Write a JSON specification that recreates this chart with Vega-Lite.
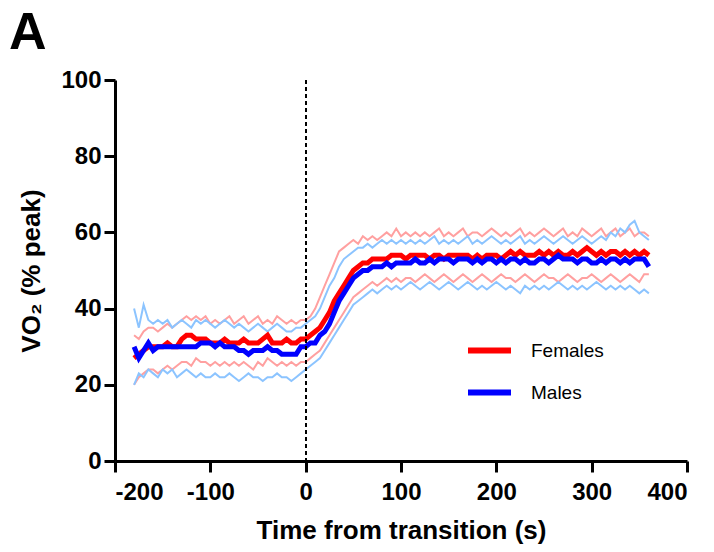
{
  "$schema": "https://vega.github.io/schema/vega-lite/v6.json",
  "width": 572,
  "height": 381,
  "autosize": {"type": "none"},
  "padding": {"left": 115, "top": 80, "right": 27, "bottom": 91},
  "background": "white",
  "title": {"text": "A", "anchor": "start", "frame": "group", "dx": -106, "offset": 8, "fontSize": 52, "fontWeight": "bold", "font": "Liberation Sans", "color": "black"},
  "data": {"values": [
{"t":-180,"Females":27,"Males":30,"Fu":33,"Fl":20,"Mu":40,"Ml":20},
{"t":-175,"Females":28,"Males":27,"Fu":32,"Fl":22,"Mu":35,"Ml":23},
{"t":-170,"Females":29,"Males":29,"Fu":34,"Fl":23,"Mu":41,"Ml":22},
{"t":-165,"Females":30,"Males":31,"Fu":35,"Fl":24,"Mu":37,"Ml":24},
{"t":-160,"Females":30,"Males":29,"Fu":35,"Fl":24,"Mu":36,"Ml":23},
{"t":-155,"Females":30,"Males":30,"Fu":34,"Fl":23,"Mu":37,"Ml":22},
{"t":-150,"Females":30,"Males":30,"Fu":35,"Fl":24,"Mu":36,"Ml":24},
{"t":-145,"Females":31,"Males":30,"Fu":36,"Fl":25,"Mu":37,"Ml":23},
{"t":-140,"Females":30,"Males":30,"Fu":35,"Fl":24,"Mu":35,"Ml":24},
{"t":-135,"Females":30,"Males":30,"Fu":36,"Fl":25,"Mu":36,"Ml":22},
{"t":-130,"Females":32,"Males":30,"Fu":37,"Fl":26,"Mu":37,"Ml":23},
{"t":-125,"Females":33,"Males":30,"Fu":38,"Fl":26,"Mu":36,"Ml":24},
{"t":-120,"Females":33,"Males":30,"Fu":37,"Fl":25,"Mu":35,"Ml":23},
{"t":-115,"Females":32,"Males":30,"Fu":38,"Fl":27,"Mu":37,"Ml":22},
{"t":-110,"Females":32,"Males":31,"Fu":37,"Fl":26,"Mu":36,"Ml":23},
{"t":-105,"Females":32,"Males":31,"Fu":38,"Fl":26,"Mu":37,"Ml":22},
{"t":-100,"Females":31,"Males":31,"Fu":36,"Fl":25,"Mu":36,"Ml":22},
{"t":-95,"Females":31,"Males":30,"Fu":37,"Fl":26,"Mu":35,"Ml":23},
{"t":-90,"Females":31,"Males":31,"Fu":36,"Fl":25,"Mu":36,"Ml":22},
{"t":-85,"Females":32,"Males":30,"Fu":37,"Fl":26,"Mu":37,"Ml":22},
{"t":-80,"Females":31,"Males":30,"Fu":38,"Fl":25,"Mu":36,"Ml":23},
{"t":-75,"Females":31,"Males":30,"Fu":36,"Fl":26,"Mu":35,"Ml":22},
{"t":-70,"Females":31,"Males":29,"Fu":37,"Fl":25,"Mu":36,"Ml":21},
{"t":-65,"Females":32,"Males":29,"Fu":38,"Fl":26,"Mu":35,"Ml":22},
{"t":-60,"Females":31,"Males":28,"Fu":36,"Fl":25,"Mu":34,"Ml":23},
{"t":-55,"Females":31,"Males":29,"Fu":37,"Fl":24,"Mu":35,"Ml":22},
{"t":-50,"Females":31,"Males":29,"Fu":38,"Fl":26,"Mu":36,"Ml":22},
{"t":-45,"Females":32,"Males":29,"Fu":36,"Fl":25,"Mu":35,"Ml":21},
{"t":-40,"Females":33,"Males":30,"Fu":37,"Fl":27,"Mu":34,"Ml":22},
{"t":-35,"Females":31,"Males":29,"Fu":36,"Fl":26,"Mu":35,"Ml":22},
{"t":-30,"Females":31,"Males":29,"Fu":38,"Fl":25,"Mu":36,"Ml":23},
{"t":-25,"Females":31,"Males":28,"Fu":37,"Fl":26,"Mu":35,"Ml":22},
{"t":-20,"Females":32,"Males":28,"Fu":36,"Fl":25,"Mu":34,"Ml":22},
{"t":-15,"Females":31,"Males":28,"Fu":37,"Fl":26,"Mu":34,"Ml":21},
{"t":-10,"Females":31,"Males":28,"Fu":36,"Fl":25,"Mu":35,"Ml":22},
{"t":-5,"Females":32,"Males":30,"Fu":37,"Fl":26,"Mu":35,"Ml":23},
{"t":0,"Females":32,"Males":30,"Fu":37,"Fl":26,"Mu":36,"Ml":24},
{"t":5,"Females":33,"Males":31,"Fu":38,"Fl":27,"Mu":37,"Ml":25},
{"t":10,"Females":34,"Males":31,"Fu":40,"Fl":28,"Mu":38,"Ml":26},
{"t":15,"Females":35,"Males":33,"Fu":43,"Fl":29,"Mu":40,"Ml":27},
{"t":20,"Females":37,"Males":34,"Fu":46,"Fl":31,"Mu":43,"Ml":29},
{"t":25,"Females":39,"Males":36,"Fu":49,"Fl":33,"Mu":46,"Ml":31},
{"t":30,"Females":42,"Males":39,"Fu":52,"Fl":35,"Mu":48,"Ml":33},
{"t":35,"Females":44,"Males":42,"Fu":55,"Fl":37,"Mu":51,"Ml":35},
{"t":40,"Females":46,"Males":44,"Fu":56,"Fl":39,"Mu":53,"Ml":37},
{"t":45,"Females":48,"Males":46,"Fu":57,"Fl":41,"Mu":54,"Ml":39},
{"t":50,"Females":50,"Males":48,"Fu":58,"Fl":43,"Mu":55,"Ml":41},
{"t":55,"Females":51,"Males":49,"Fu":57,"Fl":44,"Mu":56,"Ml":42},
{"t":60,"Females":52,"Males":50,"Fu":59,"Fl":45,"Mu":56,"Ml":43},
{"t":65,"Females":52,"Males":50,"Fu":58,"Fl":46,"Mu":57,"Ml":44},
{"t":70,"Females":53,"Males":51,"Fu":59,"Fl":47,"Mu":56,"Ml":45},
{"t":75,"Females":53,"Males":51,"Fu":58,"Fl":46,"Mu":57,"Ml":44},
{"t":80,"Females":53,"Males":51,"Fu":59,"Fl":47,"Mu":58,"Ml":45},
{"t":85,"Females":53,"Males":52,"Fu":60,"Fl":48,"Mu":57,"Ml":46},
{"t":90,"Females":54,"Males":51,"Fu":59,"Fl":47,"Mu":58,"Ml":45},
{"t":95,"Females":54,"Males":52,"Fu":61,"Fl":48,"Mu":57,"Ml":46},
{"t":100,"Females":54,"Males":52,"Fu":59,"Fl":47,"Mu":58,"Ml":45},
{"t":105,"Females":53,"Males":52,"Fu":60,"Fl":48,"Mu":57,"Ml":46},
{"t":110,"Females":54,"Males":52,"Fu":59,"Fl":48,"Mu":58,"Ml":47},
{"t":115,"Females":54,"Males":53,"Fu":60,"Fl":47,"Mu":57,"Ml":46},
{"t":120,"Females":54,"Males":52,"Fu":59,"Fl":48,"Mu":58,"Ml":45},
{"t":125,"Females":54,"Males":52,"Fu":60,"Fl":49,"Mu":57,"Ml":46},
{"t":130,"Females":53,"Males":53,"Fu":59,"Fl":48,"Mu":58,"Ml":47},
{"t":135,"Females":54,"Males":52,"Fu":60,"Fl":47,"Mu":59,"Ml":46},
{"t":140,"Females":54,"Males":53,"Fu":61,"Fl":48,"Mu":57,"Ml":45},
{"t":145,"Females":53,"Males":53,"Fu":59,"Fl":49,"Mu":58,"Ml":46},
{"t":150,"Females":54,"Males":53,"Fu":60,"Fl":48,"Mu":57,"Ml":47},
{"t":155,"Females":54,"Males":52,"Fu":59,"Fl":47,"Mu":58,"Ml":46},
{"t":160,"Females":54,"Males":53,"Fu":60,"Fl":48,"Mu":57,"Ml":45},
{"t":165,"Females":54,"Males":53,"Fu":61,"Fl":49,"Mu":58,"Ml":46},
{"t":170,"Females":54,"Males":53,"Fu":59,"Fl":48,"Mu":59,"Ml":47},
{"t":175,"Females":53,"Males":52,"Fu":60,"Fl":47,"Mu":57,"Ml":46},
{"t":180,"Females":54,"Males":53,"Fu":60,"Fl":48,"Mu":58,"Ml":45},
{"t":185,"Females":53,"Males":52,"Fu":59,"Fl":49,"Mu":57,"Ml":46},
{"t":190,"Females":54,"Males":53,"Fu":60,"Fl":48,"Mu":58,"Ml":45},
{"t":195,"Females":54,"Males":53,"Fu":61,"Fl":47,"Mu":59,"Ml":46},
{"t":200,"Females":54,"Males":52,"Fu":60,"Fl":48,"Mu":58,"Ml":47},
{"t":205,"Females":53,"Males":53,"Fu":59,"Fl":49,"Mu":57,"Ml":46},
{"t":210,"Females":54,"Males":52,"Fu":60,"Fl":48,"Mu":58,"Ml":45},
{"t":215,"Females":55,"Males":53,"Fu":59,"Fl":48,"Mu":57,"Ml":46},
{"t":220,"Females":54,"Males":53,"Fu":60,"Fl":47,"Mu":58,"Ml":45},
{"t":225,"Females":55,"Males":52,"Fu":61,"Fl":48,"Mu":59,"Ml":44},
{"t":230,"Females":54,"Males":53,"Fu":59,"Fl":49,"Mu":57,"Ml":46},
{"t":235,"Females":54,"Males":52,"Fu":60,"Fl":48,"Mu":58,"Ml":45},
{"t":240,"Females":54,"Males":52,"Fu":59,"Fl":47,"Mu":57,"Ml":46},
{"t":245,"Females":55,"Males":53,"Fu":60,"Fl":48,"Mu":58,"Ml":45},
{"t":250,"Females":54,"Males":53,"Fu":61,"Fl":49,"Mu":59,"Ml":46},
{"t":255,"Females":55,"Males":52,"Fu":60,"Fl":48,"Mu":58,"Ml":45},
{"t":260,"Females":54,"Males":53,"Fu":59,"Fl":48,"Mu":57,"Ml":46},
{"t":265,"Females":55,"Males":54,"Fu":60,"Fl":47,"Mu":58,"Ml":47},
{"t":270,"Females":54,"Males":53,"Fu":61,"Fl":48,"Mu":59,"Ml":46},
{"t":275,"Females":54,"Males":53,"Fu":59,"Fl":49,"Mu":58,"Ml":45},
{"t":280,"Females":55,"Males":53,"Fu":60,"Fl":48,"Mu":57,"Ml":46},
{"t":285,"Females":54,"Males":52,"Fu":59,"Fl":47,"Mu":58,"Ml":45},
{"t":290,"Females":55,"Males":53,"Fu":61,"Fl":48,"Mu":59,"Ml":46},
{"t":295,"Females":56,"Males":53,"Fu":60,"Fl":48,"Mu":58,"Ml":45},
{"t":300,"Females":55,"Males":52,"Fu":59,"Fl":49,"Mu":57,"Ml":46},
{"t":305,"Females":54,"Males":52,"Fu":60,"Fl":48,"Mu":58,"Ml":47},
{"t":310,"Females":55,"Males":53,"Fu":61,"Fl":47,"Mu":59,"Ml":46},
{"t":315,"Females":54,"Males":52,"Fu":59,"Fl":48,"Mu":58,"Ml":45},
{"t":320,"Females":55,"Males":53,"Fu":60,"Fl":49,"Mu":60,"Ml":46},
{"t":325,"Females":55,"Males":53,"Fu":61,"Fl":48,"Mu":59,"Ml":45},
{"t":330,"Females":54,"Males":52,"Fu":59,"Fl":47,"Mu":61,"Ml":46},
{"t":335,"Females":55,"Males":53,"Fu":60,"Fl":48,"Mu":60,"Ml":45},
{"t":340,"Females":54,"Males":52,"Fu":61,"Fl":49,"Mu":62,"Ml":46},
{"t":345,"Females":55,"Males":53,"Fu":59,"Fl":48,"Mu":63,"Ml":45},
{"t":350,"Females":54,"Males":53,"Fu":60,"Fl":47,"Mu":60,"Ml":44},
{"t":355,"Females":55,"Males":53,"Fu":60,"Fl":49,"Mu":59,"Ml":45},
{"t":360,"Females":54,"Males":51,"Fu":59,"Fl":49,"Mu":58,"Ml":44}
  ]},
  "layer": [
    {
      "transform": [{"fold": ["Fu", "Fl", "Mu", "Ml"], "as": ["k", "v"]}],
      "mark": {"type": "line", "strokeWidth": 2, "clip": false},
      "encoding": {
        "x": {"field": "t", "type": "quantitative", "scale": {"domain": [-200, 400], "nice": false},
              "axis": {"values": [-200, -100, 0, 100, 200, 300, 400], "title": "Time from transition (s)", "labelExpr": "'' + datum.value"}},
        "y": {"field": "v", "type": "quantitative", "scale": {"domain": [0, 100], "nice": false},
              "axis": {"values": [0, 20, 40, 60, 80, 100], "title": "VO₂ (% peak)"}},
        "color": {"field": "k", "type": "nominal", "scale": {"domain": ["Fu", "Fl", "Mu", "Ml"], "range": ["#ffa0a0", "#ffa0a0", "#8cc4ff", "#8cc4ff"]}, "legend": null},
        "detail": {"field": "k"}
      }
    },
    {
      "transform": [{"fold": ["Females", "Males"], "as": ["k", "v"]}],
      "mark": {"type": "line", "strokeWidth": 5},
      "encoding": {
        "x": {"field": "t", "type": "quantitative"},
        "y": {"field": "v", "type": "quantitative"},
        "color": {"field": "k", "type": "nominal", "scale": {"domain": ["Females", "Males"], "range": ["#ff0000", "#0000ff"]},
                  "legend": {"orient": "none", "legendX": 350, "legendY": 246, "title": null, "symbolType": "stroke", "symbolSize": 1849, "symbolStrokeWidth": 6, "labelFontSize": 19, "labelFont": "Liberation Sans", "labelColor": "black", "labelOffset": 17, "rowPadding": 5, "padding": 0}}
      }
    },
    {
      "mark": {"type": "rule", "strokeDash": [4, 3], "strokeWidth": 1.2, "color": "black"},
      "encoding": {"x": {"datum": 0}}
    }
  ],
  "resolve": {"scale": {"color": "independent"}},
  "config": {
    "view": {"stroke": null},
    "axis": {
      "grid": false,
      "domainColor": "black", "domainWidth": 3,
      "tickColor": "black", "tickWidth": 3, "tickSize": 11,
      "labelFont": "Liberation Sans", "labelFontWeight": "bold", "labelFontSize": 24, "labelColor": "black",
      "titleFont": "Liberation Sans", "titleFontWeight": "bold", "titleFontSize": 26, "titleColor": "black"
    },
    "axisX": {"labelPadding": 8, "titlePadding": 13},
    "axisY": {"labelPadding": 3, "titlePadding": 16}
  }
}
